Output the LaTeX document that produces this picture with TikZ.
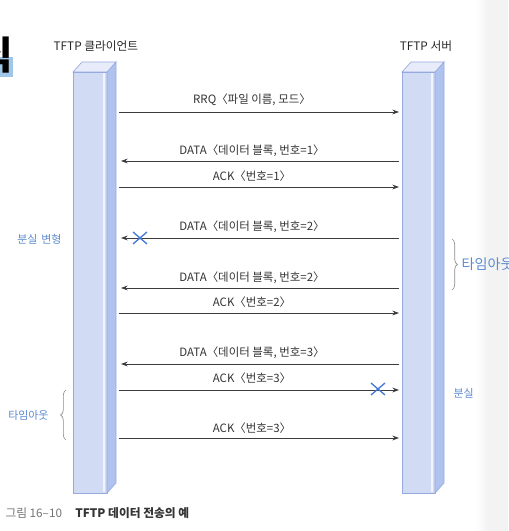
\documentclass[tikz,border=0pt]{standalone}
\usepackage{fontspec}
\setmainfont{Noto Sans CJK KR}
\usetikzlibrary{arrows.meta,decorations.pathreplacing,shapes.misc}

\definecolor{barfront}{RGB}{210,219,244}
\definecolor{barside}{RGB}{176,194,238}
\definecolor{bartop}{RGB}{232,236,250}
\definecolor{baredge}{RGB}{150,170,222}
\definecolor{msgline}{RGB}{60,60,60}
\definecolor{notecol}{RGB}{92,138,208}
\definecolor{lostcol}{RGB}{70,120,215}
\definecolor{pagegray}{RGB}{243,243,243}
\definecolor{hlblue}{RGB}{160,198,232}

\tikzset{every picture/.style={line width=0.75pt}}
\tikzset{
  msg/.style={draw=msgline, line width=0.6pt, -{Stealth[length=5pt,width=3.6pt]}},
  msglabel/.style={inner sep=0pt, text=black!80, font=\fontsize{8.6}{10}\selectfont},
  headlabel/.style={inner sep=0pt, text=black!85, font=\fontsize{8.8}{10}\selectfont},
  notelabel/.style={inner sep=0pt, text=notecol, font=\fontsize{8.2}{9}\selectfont},
  lossmark/.style={cross out, draw=lostcol, line width=1pt, minimum width=9.5pt, minimum height=8pt, inner sep=0pt},
  timebrace/.style={decorate, decoration={brace, amplitude=4pt}, draw=black!45, line width=0.5pt}
}

\begin{document}
\begin{tikzpicture}[x=0.75pt,y=0.75pt,yscale=-1]
\useasboundingbox (0,0) rectangle (508,531);

%Shape: page edge on the right
\shade [left color=white, right color=pagegray] (476,0) rectangle (488,531);
\fill [pagegray] (487.5,0) rectangle (508,531);

%Shape: cut title
\fill [hlblue] (0,57) rectangle (13,77);
\node [anchor=north east, inner sep=0pt, font=\fontsize{29}{30}\selectfont\bfseries] (titlecut) at (14,36) {식};

%Shape: client bar
\filldraw [fill=barfront, draw=baredge, line width=0.5pt] (73,72) -- (107,72) -- (107,493) -- (73,493) -- cycle ;
\filldraw [fill=barside, draw=baredge, line width=0.5pt] (107,72) -- (116,62) -- (116,483) -- (107,493) -- cycle ;
\filldraw [fill=bartop, draw=baredge, line width=0.5pt] (73,72) -- (82,62) -- (116,62) -- (107,72) -- cycle ;
\draw [white!70!barfront, line width=1pt] (104,73) -- (104,492) ;

%Shape: server bar
\filldraw [fill=barfront, draw=baredge, line width=0.5pt] (402,72) -- (435,72) -- (435,493) -- (402,493) -- cycle ;
\filldraw [fill=barside, draw=baredge, line width=0.5pt] (435,72) -- (444,62) -- (444,483) -- (435,493) -- cycle ;
\filldraw [fill=bartop, draw=baredge, line width=0.5pt] (402,72) -- (411,62) -- (444,62) -- (435,72) -- cycle ;
\draw [white!70!barfront, line width=1pt] (432,73) -- (432,492) ;

% Text Node
\node [headlabel] (clienthead) at (96,46) {TFTP 클라이언트};
% Text Node
\node [headlabel] (serverhead) at (426,46) {TFTP 서버};

%Message points
\coordinate (c1) at (119,112);  \coordinate (s1) at (399,112);
\coordinate (c2) at (121,161);  \coordinate (s2) at (399,161);
\coordinate (c3) at (119,187);  \coordinate (s3) at (399,187);
\coordinate (c4) at (121,238);  \coordinate (s4) at (399,238);
\coordinate (c5) at (121,288);  \coordinate (s5) at (399,288);
\coordinate (c6) at (119,313);  \coordinate (s6) at (399,313);
\coordinate (c7) at (121,364);  \coordinate (s7) at (399,364);
\coordinate (c8) at (119,390);  \coordinate (s8) at (399,390);
\coordinate (c9) at (119,438);  \coordinate (s9) at (399,438);

%Straight Lines
\draw [msg] (c1) -- (s1) ;
\draw [msg] (s2) -- (c2) ;
\draw [msg] (c3) -- (s3) ;
\draw [msg] (s4) -- (c4) ;
\draw [msg] (s5) -- (c5) ;
\draw [msg] (c6) -- (s6) ;
\draw [msg] (s7) -- (c7) ;
\draw [msg] (c8) -- (s8) ;
\draw [msg] (c9) -- (s9) ;

% Text Node
\node [msglabel] (rrq) at (252,100) {RRQ〈파일 이름, 모드〉};
\node [msglabel] (data1) at (252,151) {DATA〈데이터 블록, 번호=1〉};
\node [msglabel] (ack1) at (252,176) {ACK〈번호=1〉};
\node [msglabel] (data2lost) at (252,227) {DATA〈데이터 블록, 번호=2〉};
\node [msglabel] (data2) at (252,278) {DATA〈데이터 블록, 번호=2〉};
\node [msglabel] (ack2) at (252,302) {ACK〈번호=2〉};
\node [msglabel] (data3) at (252,353) {DATA〈데이터 블록, 번호=3〉};
\node [msglabel] (ack3lost) at (252,378) {ACK〈번호=3〉};
\node [msglabel] (ack3) at (252,428) {ACK〈번호=3〉};

%Shape: loss marks
\node [lossmark] (lost1) at (140,238) {};
\node [lossmark] (lost2) at (378,389) {};

%Curve Lines: time-out braces
\coordinate (lbtop) at (66,390);  \coordinate (lbbot) at (66,440);
\coordinate (rbtop) at (452,239); \coordinate (rbbot) at (452,290);
\draw [timebrace] (lbbot) -- (lbtop) ;
\draw [timebrace] (rbtop) -- (rbbot) ;

% Text Node
\node [notelabel, anchor=east] (lostleft) at (62,239) {분실\hspace{3pt}변형};
\node [notelabel, anchor=east] (timeoutleft) at (49,415) {타임아웃};
\node [notelabel, anchor=west, font=\fontsize{10.6}{12}\selectfont] (timeoutright) at (461,264) {타임아웃};
\node [notelabel, anchor=west] (lostright) at (453,393) {분실};

% Text Node: caption
\node [anchor=west, inner sep=0pt, font=\fontsize{8.8}{10}\selectfont] (caption) at (5,513) {\textcolor{black!55}{그림 16–10}\hspace{10pt}\textbf{\textcolor{black!80}{TFTP 데이터 전송의 예}}};

\end{tikzpicture}
\end{document}
